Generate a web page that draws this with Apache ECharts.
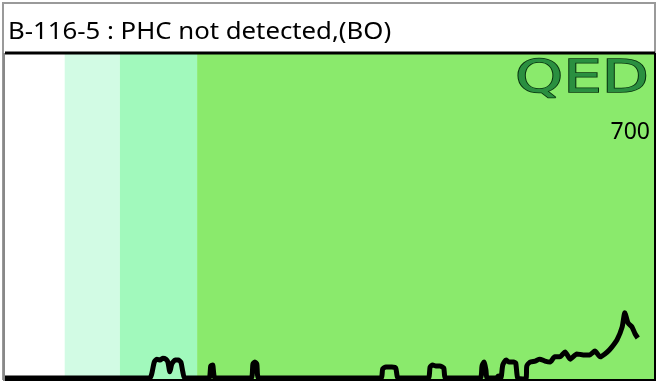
<!DOCTYPE html>
<html><head><meta charset="utf-8">
<script src="https://cdn.jsdelivr.net/npm/echarts@6/dist/echarts.min.js"></script>
<style>html,body{margin:0;padding:0;background:#fff}#c{width:657px;height:381px}</style>
</head><body><div id="c"></div>
<script>
const titleText = "B-116-5 : PHC not detected,(BO)";
const scaleLabel = "700";
const logoText = "QED";
// band boundaries (x units) and colours
const bandEdges = [0, 9.2, 17.7, 29.6, 100];
const bandColors = ["#ffffff", "#d2fbe4", "#a1f9bc", "#8aea6c"];
// trace
const traceX = [0,22.3,22.6,23.0,23.4,23.9,24.3,24.8,25.1,25.4,25.7,26.2,26.7,27.1,27.4,27.7,
31.4,31.7,32.0,32.4,37.9,38.2,38.5,38.8,39.1,
57.9,58.2,58.7,59.6,60.2,60.6,65.2,65.5,65.9,66.4,67.0,67.6,67.9,
73.2,73.5,73.8,74.1,74.3,75.7,76.0,76.4,76.7,77.2,77.7,78.4,78.7,79.0,79.8,80.3,80.4,80.9,81.7,82.4,83.2,84.0,84.7,85.5,86.3,87.1,88.1,89.1,90.1,90.9,91.7,92.8,93.5,94.3,95.1,95.5,96.0,96.6,97.1,97.5];
const traceY = [0.6,0.6,1.8,5.5,6.4,6.1,6.7,6.4,5.5,2.5,4.9,6.1,6.1,5.5,2.5,0.6,
0.6,4.3,4.6,0.6,0.6,4.9,5.5,4.9,0.6,
0.6,3.4,4.0,4.0,3.7,0.6,0.6,4.0,4.6,4.3,4.3,3.7,0.6,
0.6,4.3,5.5,3.1,0.6,0.6,1.2,0.6,4.6,6.1,5.5,5.5,5.2,0.6,0.3,0.6,4.3,5.5,5.8,6.4,5.8,5.5,7.1,7.1,8.6,6.4,8.0,7.7,7.7,8.9,7.1,8.6,10.1,12.3,16.3,20.6,17.5,16.3,14.1,12.9];

const chart = echarts.init(document.getElementById('c'));
const bands = [];
for (let i = 0; i < bandColors.length; i++) {
  bands.push([{xAxis: bandEdges[i], itemStyle: {color: bandColors[i]}}, {xAxis: bandEdges[i+1]}]);
}
chart.setOption({
  animation: false,
  grid: {left: 5, right: 3, top: 54, bottom: 1, show: false},
  xAxis: {type: 'value', min: 0, max: 100, show: false},
  yAxis: {type: 'value', min: 0, max: 100, show: false},
  graphic: [
    {type: 'rect', z: 0, shape: {x: 3, y: 3, width: 652, height: 376}, style: {fill: '#fff', stroke: '#9a9a9a', lineWidth: 2}},
    {type: 'text', z: 10, x: 8, y: 21, scaleX: 1.12, style: {text: titleText, font: '23px "Noto Sans"', fill: '#000'}},
    {type: 'text', z: 10, x: 650, y: 121, style: {text: scaleLabel, font: '23px "Noto Sans"', fill: '#000', align: 'right'}},
    {type: 'text', z: 10, x: 515, y: 58, scaleX: 1.36, scaleY: 1, style: {text: logoText, font: '45px "DejaVu Sans"', fill: '#2a8f40', stroke: '#06300d', lineWidth: 1.5}},
    {type: 'line', z: 10, shape: {x1: 5, y1: 53, x2: 655, y2: 53}, style: {stroke: '#000', lineWidth: 3}},
    {type: 'line', z: 10, shape: {x1: 5, y1: 380, x2: 655, y2: 380}, style: {stroke: '#000', lineWidth: 2}},
    {type: 'line', z: 10, shape: {x1: 655, y1: 53, x2: 655, y2: 381}, style: {stroke: '#000', lineWidth: 2}},
    {type: 'line', z: 10, shape: {x1: 4, y1: 53, x2: 4, y2: 381}, style: {stroke: '#888', lineWidth: 2}}
  ],
  series: [{
    type: 'line',
    data: traceX.map((x, i) => [x, traceY[i]]),
    showSymbol: false,
    smooth: 0.2,
    clip: false,
    lineStyle: {color: '#000', width: 5},
    markArea: {silent: true, data: bands}
  }]
});
</script></body></html>
